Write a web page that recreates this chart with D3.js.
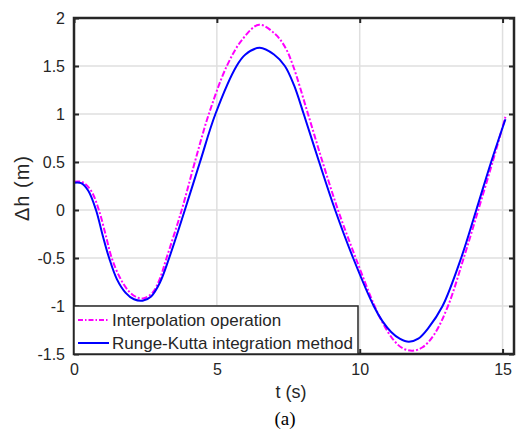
<!DOCTYPE html>
<html>
<head>
<meta charset="utf-8">
<script src="https://cdn.jsdelivr.net/npm/d3@7"></script>
<style>
  body { margin: 0; background: #fff; }
  svg { display: block; }
  text { font-family: "Liberation Sans", Arial, sans-serif; fill: #262626; }
</style>
</head>
<body>
<div id="chart"></div>
<script>
// values
const interpT = [0, 0.3, 0.6, 0.87, 1.1, 1.32, 1.6, 1.9, 2.2, 2.45, 2.75, 3.0, 3.24, 3.77, 4.23, 4.72, 5.35, 5.9, 6.48, 7.05, 7.4, 7.67, 8.19, 8.7, 9.24, 9.86, 10.52, 10.85, 11.2, 11.5, 11.85, 12.2, 12.6, 13.09, 13.64, 14.15, 14.65, 15.1]
const interpH = [0.295, 0.29, 0.2, 0, -0.25, -0.5, -0.7, -0.84, -0.91, -0.92, -0.86, -0.72, -0.5, 0, 0.5, 1.0, 1.5, 1.78, 1.93, 1.83, 1.69, 1.5, 1.0, 0.5, 0, -0.5, -1.0, -1.2, -1.36, -1.44, -1.466, -1.43, -1.3, -1.0, -0.5, 0, 0.5, 0.97]

const rkT = [0, 0.25, 0.5, 0.77, 1.0, 1.23, 1.5, 1.8, 2.1, 2.4, 2.7, 3.0, 3.33, 3.88, 4.41, 4.95, 5.69, 6.0, 6.5, 7.0, 7.38, 7.7, 8.04, 8.58, 9.14, 9.77, 10.49, 10.8, 11.1, 11.4, 11.72, 12.05, 12.4, 12.9, 13.55, 14.08, 14.6, 15.1]
const rkH = [0.284, 0.28, 0.2, 0, -0.26, -0.5, -0.72, -0.86, -0.93, -0.945, -0.9, -0.76, -0.5, 0, 0.5, 1.0, 1.5, 1.62, 1.69, 1.62, 1.5, 1.3, 1.0, 0.5, 0, -0.5, -1.0, -1.16, -1.27, -1.34, -1.372, -1.34, -1.23, -1.0, -0.5, 0, 0.5, 0.945]

const xTicks = [0, 5, 10, 15]
const yTicks = [-1.5, -1, -0.5, 0, 0.5, 1, 1.5, 2]
const seriesNames = ['Interpolation operation', 'Runge-Kutta integration method']

const width = 517, height = 439
const margin = { top: 18, right: 3, bottom: 85, left: 74 }
const FONT = '"Liberation Sans", Arial, sans-serif'

const svg = d3.select('#chart').append('svg')
  .attr('width', width)
  .attr('height', height)

const x = d3.scaleLinear().domain([0, 15.4]).range([margin.left, width - margin.right])
const y = d3.scaleLinear().domain([-1.5, 2]).range([height - margin.bottom, margin.top])

const x0 = x.range()[0], x1 = x.range()[1]
const y0 = y.range()[0], y1 = y.range()[1]

// grid
svg.append('g')
  .selectAll('line')
  .data(xTicks)
  .join('line')
  .attr('x1', d => x(d)).attr('x2', d => x(d))
  .attr('y1', y0).attr('y2', y1)
  .attr('stroke', '#dfdfdf')
  .attr('stroke-width', 1.5)

svg.append('g')
  .selectAll('line')
  .data(yTicks)
  .join('line')
  .attr('x1', x0).attr('x2', x1)
  .attr('y1', d => y(d)).attr('y2', d => y(d))
  .attr('stroke', '#dfdfdf')
  .attr('stroke-width', 1.5)

// curves
svg.append('clipPath').attr('id', 'clip')
  .append('rect')
  .attr('x', x0).attr('y', y1)
  .attr('width', x1 - x0).attr('height', y0 - y1)

const line = d3.line()
  .x(d => x(d[0]))
  .y(d => y(d[1]))
  .curve(d3.curveCatmullRom.alpha(0.5))

const plot = svg.append('g').attr('clip-path', 'url(#clip)')

plot.append('path')
  .datum(d3.zip(interpT, interpH))
  .attr('d', line)
  .attr('fill', 'none')
  .attr('stroke', '#ff00ff')
  .attr('stroke-width', 2)
  .attr('stroke-dasharray', '6,2,2,2')

plot.append('path')
  .datum(d3.zip(rkT, rkH))
  .attr('d', line)
  .attr('fill', 'none')
  .attr('stroke', '#0000ff')
  .attr('stroke-width', 2)

// axes (inward ticks, box on)
const fmt = d => String(d)

svg.append('g')
  .attr('transform', `translate(0,${y0})`)
  .call(d3.axisBottom(x).tickValues(xTicks).tickSizeInner(-5).tickSizeOuter(0).tickPadding(10).tickFormat(fmt))
  .call(g => g.select('.domain').remove())

svg.append('g')
  .attr('transform', `translate(0,${y1})`)
  .call(d3.axisTop(x).tickValues(xTicks).tickSizeInner(-5).tickSizeOuter(0).tickFormat(''))
  .call(g => g.select('.domain').remove())

svg.append('g')
  .attr('transform', `translate(${x0},0)`)
  .call(d3.axisLeft(y).tickValues(yTicks).tickSizeInner(-5).tickSizeOuter(0).tickPadding(9).tickFormat(fmt))
  .call(g => g.select('.domain').remove())

svg.append('g')
  .attr('transform', `translate(${x1},0)`)
  .call(d3.axisRight(y).tickValues(yTicks).tickSizeInner(-5).tickSizeOuter(0).tickFormat(''))
  .call(g => g.select('.domain').remove())

svg.selectAll('.tick line').attr('stroke', '#262626').attr('stroke-width', 2)
svg.selectAll('.tick text')
  .attr('font-family', FONT)
  .attr('font-size', '16px')
  .attr('fill', '#262626')

svg.append('rect')
  .attr('x', x0).attr('y', y1)
  .attr('width', x1 - x0).attr('height', y0 - y1)
  .attr('fill', 'none')
  .attr('stroke', '#262626')
  .attr('stroke-width', 2.5)

// labels
svg.append('text')
  .attr('transform', `translate(29,188) rotate(-90)`)
  .attr('text-anchor', 'middle')
  .attr('font-size', '20px')
  .attr('letter-spacing', '1')
  .text('Δh (m)')

svg.append('text')
  .attr('x', 291).attr('y', 398)
  .attr('text-anchor', 'middle')
  .attr('font-size', '18px')
  .text('t (s)')

svg.append('text')
  .attr('x', 285).attr('y', 425)
  .attr('text-anchor', 'middle')
  .attr('font-size', '19px')
  .style('font-family', '"Liberation Serif", "Times New Roman", serif')
  .style('fill', '#000')
  .text('(a)')

// legend
const lg = svg.append('g')
lg.append('rect')
  .attr('x', x0).attr('y', y(-1))
  .attr('width', 284).attr('height', y0 - y(-1))
  .attr('fill', '#fff')
  .attr('stroke', '#262626')
  .attr('stroke-width', 1.5)

const legendItems = [
  { name: seriesNames[0], color: '#ff00ff', dash: '5,2,1.5,2' },
  { name: seriesNames[1], color: '#0000ff', dash: null },
]
legendItems.forEach((d, i) => {
  const cy = y(-1) + 14 + i * 23
  lg.append('line')
    .attr('x1', x0 + 4).attr('x2', x0 + 35)
    .attr('y1', cy).attr('y2', cy)
    .attr('stroke', d.color)
    .attr('stroke-width', 2)
    .attr('stroke-dasharray', d.dash)
  lg.append('text')
    .attr('x', x0 + 38).attr('y', cy)
    .attr('dy', '0.35em')
    .attr('font-size', '17px')
    .text(d.name)
})
</script>
</body>
</html>
